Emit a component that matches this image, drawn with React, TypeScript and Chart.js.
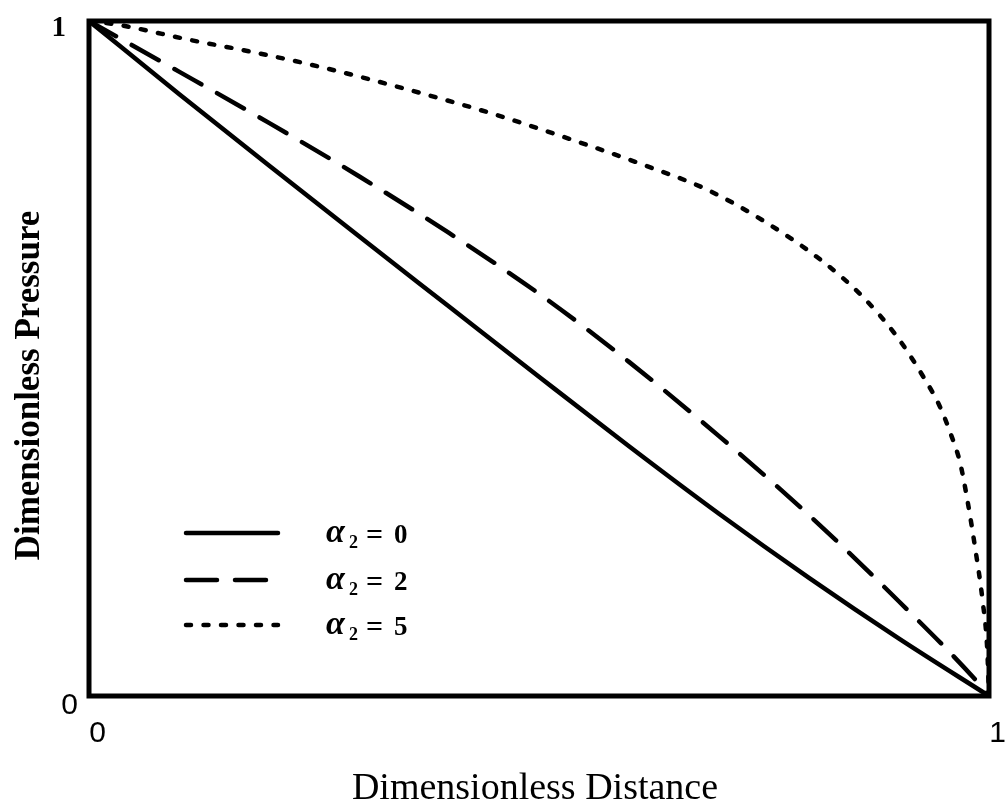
import React, { useEffect, useRef } from "react";
import { Chart, registerables } from "chart.js";

Chart.register(...registerables);

// ---- data ----
const alpha0X = [0, 0.1, 0.2, 0.3, 0.4, 0.5, 0.6, 0.7, 0.8, 0.9, 1];
const alpha0Y = [1, 0.892, 0.786, 0.681, 0.577, 0.473, 0.37, 0.27, 0.175, 0.085, 0];

const alpha2X = [0, 0.1, 0.2, 0.3, 0.4, 0.5, 0.6, 0.7, 0.8, 0.9, 0.987, 1];
const alpha2Y = [1, 0.925, 0.849, 0.77, 0.686, 0.596, 0.495, 0.385, 0.268, 0.14, 0.021, 0];

const alpha5X = [0, 0.034, 0.112, 0.182, 0.257, 0.35, 0.45, 0.55, 0.62, 0.687, 0.753, 0.816, 0.86, 0.898, 0.927, 0.945, 0.957, 0.968, 0.976, 0.985, 0.993, 0.998, 1];
const alpha5Y = [1, 0.994, 0.972, 0.954, 0.932, 0.9, 0.862, 0.818, 0.785, 0.75, 0.701, 0.643, 0.591, 0.532, 0.473, 0.43, 0.39, 0.345, 0.29, 0.216, 0.14, 0.07, 0];

const seriesLabels = ["α₂ = 0", "α₂ = 2", "α₂ = 5"];

const xTickValues = [0, 1];
const xTickLabels = ["0", "1"];
const yTickValues = [0, 1];
const yTickLabels = ["0", "1"];

const xTitle = "Dimensionless Distance";
const yTitle = "Dimensionless Pressure";

const toPoints = (xs: number[], ys: number[]) => xs.map((x, i) => ({ x, y: ys[i] }));

const paperPlugin = {
  id: "paper",
  afterDatasetsDraw(chart: any) {
    const { ctx, chartArea: a, scales } = chart;
    const xs = scales.x;
    const ys = scales.y;
    ctx.save();

    // frame
    ctx.setLineDash([]);
    ctx.lineWidth = 5;
    ctx.strokeStyle = "#000";
    ctx.lineJoin = "miter";
    ctx.strokeRect(a.left, a.top, a.right - a.left, a.bottom - a.top);

    ctx.fillStyle = "#000";
    // y tick labels
    yTickValues.forEach((v, i) => {
      const py = ys.getPixelForValue(v);
      ctx.textAlign = "right";
      ctx.textBaseline = "middle";
      if (v === 1) {
        ctx.font = "bold 29px 'Liberation Serif'";
        ctx.fillText(yTickLabels[i], a.left - 23, py + 8);
      } else {
        ctx.font = "30px 'Liberation Sans'";
        ctx.fillText(yTickLabels[i], a.left - 11, py + 10);
      }
    });
    // x tick labels
    xTickValues.forEach((v, i) => {
      const px = xs.getPixelForValue(v);
      ctx.textAlign = "center";
      ctx.textBaseline = "middle";
      ctx.font = "30px 'Liberation Sans'";
      ctx.fillText(xTickLabels[i], px + 8.5, a.bottom + 38);
    });

    // x title
    ctx.font = "38px 'Liberation Serif'";
    ctx.textAlign = "center";
    ctx.textBaseline = "alphabetic";
    ctx.fillText(xTitle, (a.left + a.right) / 2 - 4, 799);

    // y title
    ctx.save();
    ctx.translate(39, (a.top + a.bottom) / 2 + 27);
    ctx.rotate(-Math.PI / 2);
    ctx.font = "bold 35px 'Liberation Serif'";
    ctx.textAlign = "center";
    ctx.textBaseline = "alphabetic";
    ctx.fillText(yTitle, 0, 0);
    ctx.restore();

    // legend
    const rowY = [533, 580, 625];
    chart.data.datasets.forEach((ds: any, i: number) => {
      const yy = rowY[i];
      ctx.save();
      ctx.beginPath();
      ctx.lineWidth = ds.borderWidth;
      ctx.lineCap = "round";
      ctx.setLineDash(ds.borderDash || []);
      ctx.strokeStyle = "#000";
      ctx.moveTo(186, yy);
      ctx.lineTo(278, yy);
      ctx.stroke();
      ctx.restore();

      const label: string = ds.label;
      const [sym, rest] = label.split("₂");
      const x0 = 326;
      ctx.textAlign = "left";
      ctx.textBaseline = "alphabetic";
      ctx.font = "italic bold 34px 'Liberation Serif'";
      ctx.fillText(sym, x0, yy + 9);
      ctx.font = "bold 18px 'Liberation Serif'";
      ctx.fillText("2", x0 + 23, yy + 15);
      const parts = rest.trim().split(" ");
      ctx.font = "bold 30px 'Liberation Serif'";
      ctx.fillText(parts[0], x0 + 40, yy + 11);
      ctx.font = "bold 27px 'Liberation Serif'";
      ctx.fillText(parts[1], x0 + 68, yy + 10);
    });

    ctx.restore();
  },
};

export default function App() {
  const ref = useRef<HTMLCanvasElement | null>(null);
  useEffect(() => {
    if (!ref.current) return;
    const chart = new Chart(ref.current, {
      type: "line",
      data: {
        datasets: [
          {
            label: seriesLabels[0],
            data: toPoints(alpha0X, alpha0Y),
            borderColor: "#000",
            borderWidth: 4.5,
            borderDash: [],
            pointRadius: 0,
            cubicInterpolationMode: "monotone",
            borderCapStyle: "round",
          },
          {
            label: seriesLabels[1],
            data: toPoints(alpha2X, alpha2Y),
            borderColor: "#000",
            borderWidth: 4.5,
            borderDash: [31, 18],
            pointRadius: 0,
            cubicInterpolationMode: "monotone",
            borderCapStyle: "round",
          },
          {
            label: seriesLabels[2],
            data: toPoints(alpha5X, alpha5Y),
            borderColor: "#000",
            borderWidth: 4.5,
            borderDash: [5, 12.5],
            pointRadius: 0,
            cubicInterpolationMode: "monotone",
            borderCapStyle: "round",
          },
        ],
      },
      options: {
        animation: false,
        responsive: false,
        devicePixelRatio: 1,
        layout: { padding: { left: 89, right: 16, top: 21, bottom: 111 } },
        plugins: { legend: { display: false }, tooltip: { enabled: false } },
        scales: {
          x: { type: "linear", min: 0, max: 1, display: false },
          y: { type: "linear", min: 0, max: 1, display: false },
        },
      },
      plugins: [paperPlugin],
    } as any);
    return () => chart.destroy();
  }, []);
  return (
    <div style={{ position: "fixed", left: 0, top: 0, width: 1005, height: 807, background: "#fff" }}>
      <canvas ref={ref} width={1005} height={807} style={{ display: "block" }} />
    </div>
  );
}
